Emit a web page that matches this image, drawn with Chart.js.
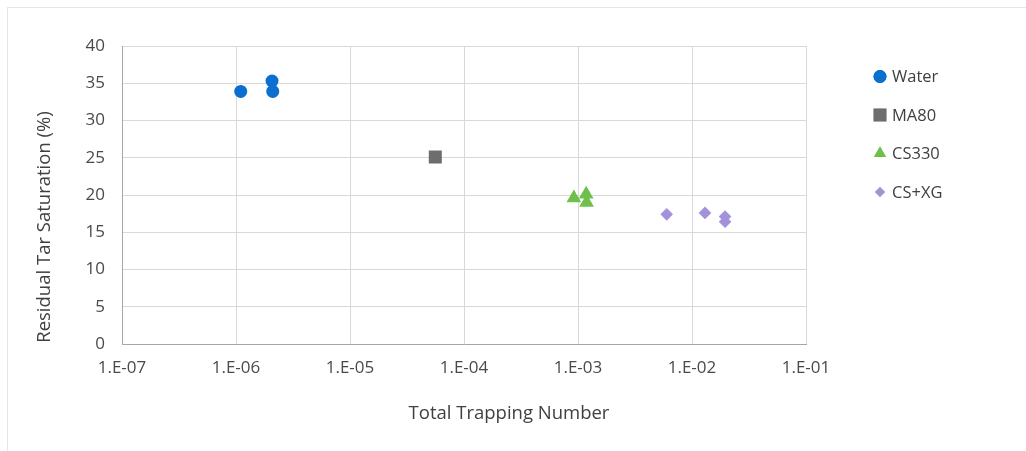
<!DOCTYPE html>
<html>
<head>
<meta charset="utf-8">
<script src="https://cdn.jsdelivr.net/npm/chart.js@4/dist/chart.umd.min.js"></script>
<style>
  html, body { margin: 0; padding: 0; background: #ffffff; }
  #wrap { position: relative; width: 1026px; height: 451px; overflow: hidden; }
  #frame { position: absolute; left: 7px; top: 7px; width: 1100px; height: 500px;
           border-left: 1px solid #e6e6e6; border-top: 1px solid #e6e6e6; }
  canvas { position: absolute; left: 0; top: 0; }
</style>
</head>
<body>
<div id="wrap">
  <div id="frame"></div>
  <canvas id="chart" width="1026" height="451"></canvas>
</div>
<script>
// Total trapping number vs residual tar saturation, per flooding fluid
const waterX = [1.1e-6, 2.07e-6, 2.1e-6];
const waterY = [33.9, 35.3, 33.9];
const ma80X = [5.6e-5];
const ma80Y = [25.1];
const cs330X = [9.2e-4, 1.18e-3, 1.19e-3];
const cs330Y = [19.6, 20.1, 19.0];
const csxgX = [6.0e-3, 1.3e-2, 1.95e-2, 1.95e-2];
const csxgY = [17.4, 17.6, 17.1, 16.4];

const seriesNames = ['Water', 'MA80', 'CS330', 'CS+XG'];
const xTickValues = [1e-7, 1e-6, 1e-5, 1e-4, 1e-3, 1e-2, 1e-1];
const xTickLabels = ['1.E-07', '1.E-06', '1.E-05', '1.E-04', '1.E-03', '1.E-02', '1.E-01'];
const yTickValues = [0, 5, 10, 15, 20, 25, 30, 35, 40];

const xTitle = 'Total Trapping Number';
const yTitle = 'Residual Tar Saturation (%)';

const FONT = '"Open Sans", "DejaVu Sans", sans-serif';

function pts(xs, ys) { return xs.map((x, i) => ({ x: x, y: ys[i] })); }

const datasets = [
  { label: seriesNames[0], data: pts(waterX, waterY), pointStyle: 'circle', pointRadius: 6.5,
    backgroundColor: '#0b6fcf', borderColor: '#0b6fcf', legendRadius: 6.5 },
  { label: seriesNames[1], data: pts(ma80X, ma80Y), pointStyle: 'rect', pointRadius: 9.2,
    backgroundColor: '#6d6d6d', borderColor: '#6d6d6d', legendRadius: 9 },
  { label: seriesNames[2], data: pts(cs330X, cs330Y), pointStyle: 'triangle', pointRadius: 8.5,
    backgroundColor: '#6fc04b', borderColor: '#6fc04b', legendRadius: 7 },
  { label: seriesNames[3], data: pts(csxgX, csxgY), pointStyle: 'rectRot', pointRadius: 6.3,
    backgroundColor: '#a491dc', borderColor: '#a491dc', legendRadius: 5 }
].map(d => Object.assign(d, { borderWidth: 0, pointHoverRadius: d.pointRadius, showLine: false }));

// Axis titles and the legend column at the right
const decorations = {
  id: 'decorations',
  afterDraw(chart) {
    const ctx = chart.ctx;
    ctx.save();
    ctx.fillStyle = '#404040';
    ctx.font = '18.5px ' + FONT;
    ctx.textAlign = 'center';
    ctx.textBaseline = 'middle';
    ctx.fillText(xTitle, 509, 414);
    ctx.save();
    ctx.translate(45, 227);
    ctx.rotate(-Math.PI / 2);
    ctx.fillText(yTitle, 0, 0);
    ctx.restore();

    ctx.font = '16.5px ' + FONT;
    ctx.textAlign = 'left';
    chart.data.datasets.forEach((ds, i) => {
      const y = 76.5 + i * 38.5;
      ctx.fillStyle = ds.backgroundColor;
      Chart.helpers.drawPoint(ctx, { pointStyle: ds.pointStyle, radius: ds.legendRadius, borderWidth: 0 }, 880, y);
      ctx.fill();
      ctx.fillStyle = '#404040';
      ctx.fillText(ds.label, 892, y + 1);
    });
    ctx.restore();
  }
};

new Chart(document.getElementById('chart'), {
  type: 'scatter',
  data: { datasets: datasets },
  plugins: [decorations],
  options: {
    responsive: false,
    animation: false,
    events: [],
    layout: { padding: { left: 0, top: 46, right: 220, bottom: 67 } },
    plugins: { legend: { display: false }, tooltip: { enabled: false } },
    scales: {
      x: {
        type: 'logarithmic',
        min: xTickValues[0],
        max: xTickValues[xTickValues.length - 1],
        afterBuildTicks(scale) { scale.ticks = xTickValues.map(v => ({ value: v })); },
        afterFit(scale) { scale.height = 40; },
        ticks: {
          autoSkip: false, maxRotation: 0, padding: 14, color: '#4a4a4a',
          font: { family: FONT, size: 17 },
          callback: (v, i) => xTickLabels[i]
        },
        grid: { color: '#d9d9d9', drawTicks: false },
        border: { color: '#a6a6a6' }
      },
      y: {
        min: yTickValues[0],
        max: yTickValues[yTickValues.length - 1],
        afterBuildTicks(scale) { scale.ticks = yTickValues.map(v => ({ value: v })); },
        afterFit(scale) { scale.width = 122; },
        ticks: {
          padding: 17, color: '#4a4a4a',
          font: { family: FONT, size: 17 }
        },
        grid: { color: '#d9d9d9', drawTicks: false },
        border: { color: '#a6a6a6' }
      }
    }
  }
});
</script>
</body>
</html>
